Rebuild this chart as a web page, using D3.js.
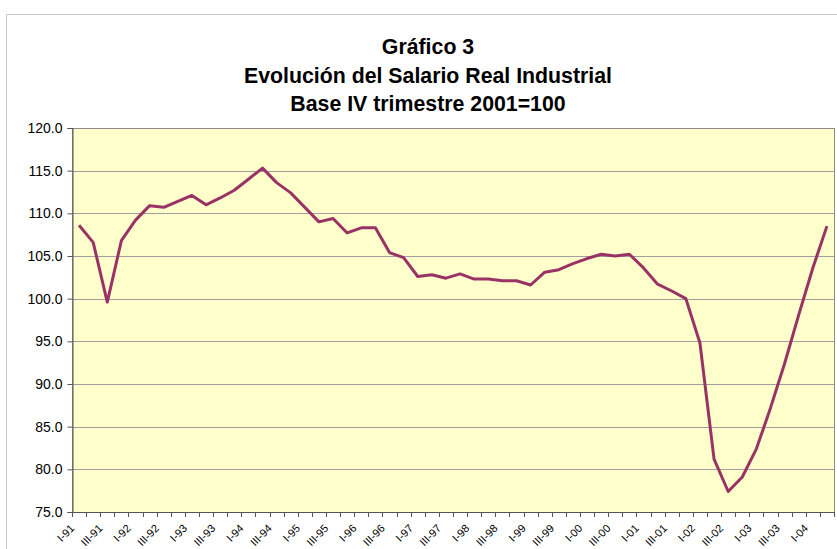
<!DOCTYPE html>
<html><head><meta charset="utf-8">
<script src="https://cdn.jsdelivr.net/npm/d3@7"></script>
<style>html,body{margin:0;padding:0;background:#fff;overflow:hidden}</style>
</head><body>
<script>
const titleLines = ["Gráfico 3", "Evolución del Salario Real Industrial", "Base IV trimestre 2001=100"];
const quarters = [];
const qNames = ["I","II","III","IV"];
for (let y = 91; y <= 104; y++) for (let q = 0; q < 4; q++) {
  if (quarters.length < 54) quarters.push(qNames[q] + "-" + String(y % 100).padStart(2, "0"));
}
const salario = [108.6,106.6,99.6,106.8,109.2,110.9,110.7,111.4,112.1,111.0,111.8,112.7,114.0,115.3,113.6,112.4,110.7,109.0,109.4,107.7,108.3,108.3,105.4,104.8,102.6,102.8,102.4,102.9,102.3,102.3,102.1,102.1,101.6,103.1,103.4,104.1,104.7,105.2,105.0,105.2,103.6,101.7,100.9,100.0,94.8,81.2,77.4,79.1,82.4,87.2,92.4,98.1,103.6,108.5];
const yTicks = [75,80,85,90,95,100,105,110,115,120];

const W = 837, H = 549;
const svg = d3.select("body").append("svg").attr("width", W).attr("height", H)
  .style("font-family", "'Liberation Sans', Arial, sans-serif");

// outer chart frame
svg.append("rect").attr("x", 6.5).attr("y", 14.5).attr("width", 900).attr("height", 600)
  .attr("fill", "#fff").attr("stroke", "#c8c8c8");

const L = 72, R = 834, T = 128, B = 512;
const x = d3.scaleBand().domain(quarters).range([L, R]);
const y = d3.scaleLinear().domain([75, 120]).range([B, T]);

svg.append("rect").attr("x", L).attr("y", T).attr("width", R - L).attr("height", B - T)
  .attr("fill", "#FFFFCC");

// gridlines
svg.append("g").selectAll("line").data(yTicks.filter(d => d > 75)).join("line")
  .attr("x1", L).attr("x2", R).attr("y1", d => Math.round(y(d)) + 0.5).attr("y2", d => Math.round(y(d)) + 0.5)
  .attr("stroke", "#a0a0a0").attr("stroke-width", 1);

// plot border
svg.append("rect").attr("x", L + 0.5).attr("y", T + 0.5).attr("width", R - L).attr("height", B - T)
  .attr("fill", "none").attr("stroke", "#8c8c8c");

// y axis
const yAxis = d3.axisLeft(y).tickValues(yTicks).tickFormat(d3.format(".1f")).tickSize(5).tickPadding(5);
const gy = svg.append("g").attr("transform", `translate(${L + 0.5},0)`).call(yAxis);
gy.select(".domain").attr("stroke", "#555");
gy.selectAll(".tick line").attr("stroke", "#555");
gy.selectAll("text").attr("font-size", 14).attr("fill", "#000").style("font-family", "'Liberation Sans', Arial, sans-serif");

// x axis ticks (between categories)
const bounds = quarters.map(q => x(q)).concat([R]);
svg.append("g").selectAll("line").data(bounds).join("line")
  .attr("x1", d => Math.round(d) + 0.5).attr("x2", d => Math.round(d) + 0.5)
  .attr("y1", B).attr("y2", B + 5).attr("stroke", "#555");
svg.append("line").attr("x1", L).attr("x2", R).attr("y1", B + 0.5).attr("y2", B + 0.5).attr("stroke", "#555");

// x labels
svg.append("g").selectAll("text").data(quarters.filter((d, i) => i % 2 === 0)).join("text")
  .attr("transform", d => `translate(${x(d) + x.bandwidth() / 2 - 4},${B + 17}) rotate(-45)`)
  .attr("text-anchor", "end").attr("font-size", 11).attr("fill", "#000").text(d => d);

// line
const line = d3.line().x((d, i) => x(quarters[i]) + x.bandwidth() / 2).y(d => y(d));
svg.append("path").datum(salario).attr("d", line).attr("fill", "none")
  .attr("stroke", "#993366").attr("stroke-width", 3).attr("stroke-linejoin", "round");

// title
svg.append("g").selectAll("text").data(titleLines).join("text")
  .attr("x", 428).attr("y", (d, i) => 54 + i * 28.5)
  .attr("text-anchor", "middle").attr("font-size", 21.3).attr("font-weight", "bold").attr("fill", "#000")
  .text(d => d);
</script>
</body></html>
